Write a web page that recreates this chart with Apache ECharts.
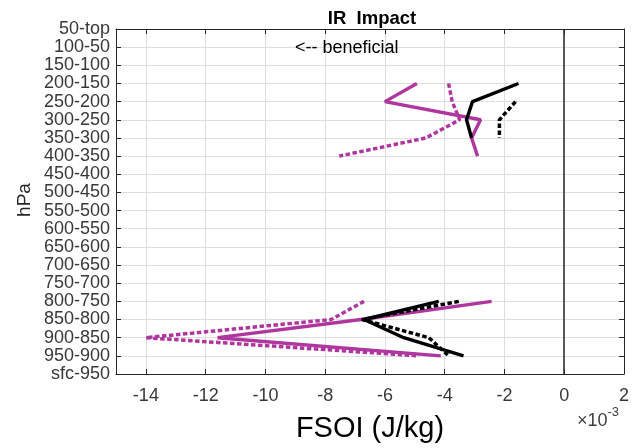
<!DOCTYPE html>
<html>
<head>
<meta charset="utf-8">
<script src="https://cdn.jsdelivr.net/npm/echarts@6/dist/echarts.min.js"></script>
<style>
html,body{margin:0;padding:0;background:#fff;}
#chart{width:632px;height:448px;}
</style>
</head>
<body>
<div id="chart"></div>
<script>
// Pressure layers (top to bottom)
var levels = ['50-top','100-50','150-100','200-150','250-200','300-250','350-300','400-350','450-400','500-450','550-500','600-550','650-600','700-650','750-700','800-750','850-800','900-850','950-900','sfc-950'];
// x tick labels (units of 1e-3 J/kg)
var xTicks = [-14,-12,-10,-8,-6,-4,-2,0,2];

// Series values (x1e-3 J/kg) per layer; null = no value
var blackSolid   = [null,null,null,-1.53,-3.07,-3.27,-3.10,null,null,null,null,null,null,null,null,-4.20,-6.70,-5.37,-3.37,null];
var blackDotted  = [null,null,null,null,-1.63,-2.17,-2.17,null,null,null,null,null,null,null,null,-3.53,-6.77,-4.53,-3.87,null];
var magentaSolid = [null,null,null,-4.93,-6.00,-2.80,-3.10,-2.90,null,null,null,null,null,null,null,-2.43,-6.80,-11.60,-4.13,null];
var magentaDotted= [null,null,null,-3.87,-3.75,-3.50,-4.63,-7.53,null,null,null,null,null,null,null,-6.70,-7.80,-14.00,-4.87,null];

function toData(vals){
  return levels.map(function(c,i){ return vals[i]==null ? ['-', c] : [vals[i], c]; });
}
var MAG = '#B0369F';
var BLK = '#000000';
var FONT = 'Liberation Sans, Arial, sans-serif';
var axisCol = '#262626';
var chart = echarts.init(document.getElementById('chart'), null, {renderer:'canvas'});
var dotted = [4.5, 2.5];
var option = {
  animation:false,
  backgroundColor:'#fff',
  title:{text:'IR  Impact', left:367, top:4, textAlign:'center',
    textStyle:{fontFamily:FONT, fontSize:18.5, fontWeight:'bold', color:'#000'}},
  grid:{left:116, right:7, top:29, bottom:72, containLabel:false},
  xAxis:[{
    type:'value', min:-15, max:2, position:'bottom',
    name:'FSOI (J/kg)', nameLocation:'middle', nameGap:40,
    nameTextStyle:{fontFamily:FONT, fontSize:29, color:'#000'},
    axisLine:{show:true, onZero:false, lineStyle:{color:axisCol, width:1}},
    axisTick:{show:true, inside:true, length:5, customValues:xTicks, lineStyle:{color:axisCol}},
    axisLabel:{customValues:xTicks, fontFamily:FONT, fontSize:18, color:'#383838', margin:13},
    splitLine:{show:true, lineStyle:{color:'#dedede', width:1}}
  },{
    type:'value', min:-15, max:2, position:'top',
    axisLine:{show:true, onZero:false, lineStyle:{color:axisCol, width:1}},
    axisTick:{show:true, inside:true, length:5, customValues:xTicks, lineStyle:{color:axisCol}},
    axisLabel:{show:false},
    splitLine:{show:false}
  }],
  yAxis:[{
    type:'category', data:levels, inverse:true, boundaryGap:false,
    axisLine:{show:true, onZero:false, lineStyle:{color:axisCol}},
    axisTick:{show:true, inside:true, length:5, alignWithLabel:true, lineStyle:{color:axisCol}},
    axisLabel:{fontFamily:FONT, fontSize:18, color:'#383838', margin:6, interval:0},
    splitLine:{show:true, interval:0, lineStyle:{color:'#dedede', width:1}}
  },{
    type:'category', data:levels, inverse:true, boundaryGap:false, position:'right',
    axisLine:{show:true, onZero:false, lineStyle:{color:axisCol}},
    axisTick:{show:true, inside:true, length:5, interval:0, lineStyle:{color:axisCol}},
    axisLabel:{show:false},
    splitLine:{show:false}
  }],
  graphic:[
    {type:'text', left:295, top:39, z:100, style:{text:'<-- beneficial', fontFamily:FONT, fontSize:18, fill:'#000'}},
    {type:'text', x:25, y:200, rotation:Math.PI/2, z:100, style:{text:'hPa', fontFamily:FONT, fontSize:19, fill:'#262626', align:'center', verticalAlign:'middle'}},
    {type:'text', left:577, top:406, z:100, style:{
      text:'{a|\u00d710}{b|-3}', rich:{
        a:{fontFamily:FONT, fontSize:18, fill:'#404040', padding:[10,0,0,0]},
        b:{fontFamily:FONT, fontSize:13, fill:'#404040', padding:[0,0,8,0]}
      }}}
  ],
  series:[
    {type:'line', name:'IR mag solid', data:toData(magentaSolid), showSymbol:false, symbol:'none',
     lineStyle:{color:MAG, width:3.4}, connectNulls:false,
     markLine:{silent:true, symbol:'none', label:{show:false}, data:[{xAxis:0}],
       lineStyle:{color:'#262626', width:1.5, type:'solid'}}},
    {type:'line', name:'IR mag dotted', data:toData(magentaDotted), showSymbol:false, symbol:'none',
     lineStyle:{color:MAG, width:3.5, type:dotted}, connectNulls:false},
    {type:'line', name:'IR black solid', data:toData(blackSolid), showSymbol:false, symbol:'none',
     lineStyle:{color:BLK, width:3.4}, connectNulls:false},
    {type:'line', name:'IR black dotted', data:toData(blackDotted), showSymbol:false, symbol:'none',
     lineStyle:{color:BLK, width:3.5, type:dotted}, connectNulls:false}
  ]
};
chart.setOption(option);
</script>
</body>
</html>
